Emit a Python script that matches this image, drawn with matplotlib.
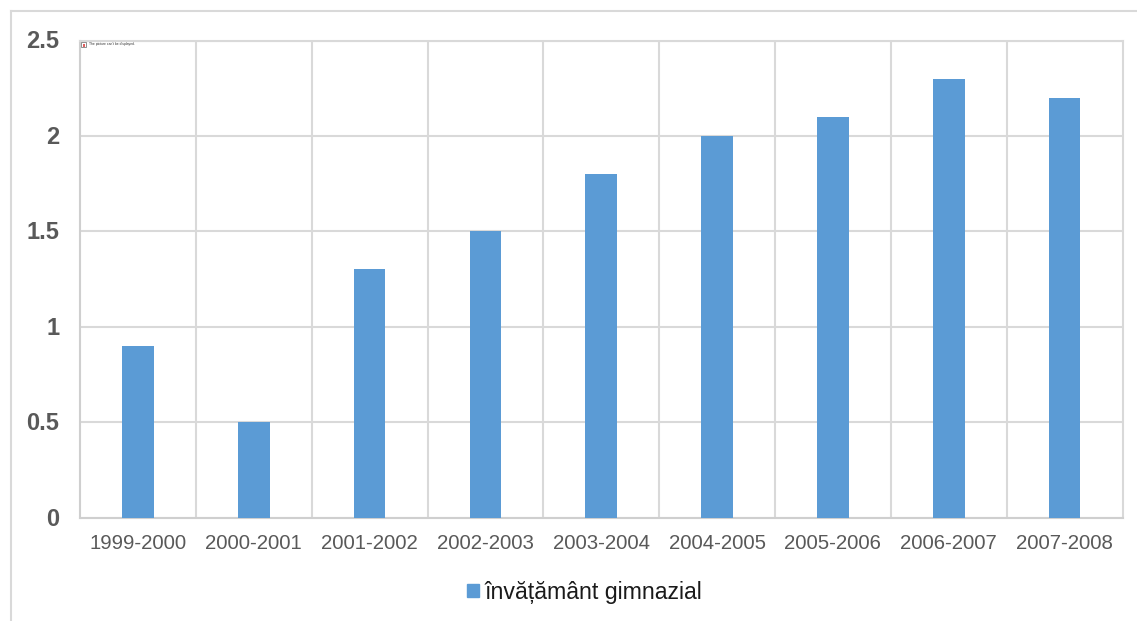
import matplotlib
matplotlib.use('Agg')
import matplotlib.pyplot as plt
from matplotlib.lines import Line2D
from matplotlib.transforms import ScaledTranslation

# Values
years = ['1999-2000', '2000-2001', '2001-2002', '2002-2003', '2003-2004',
         '2004-2005', '2005-2006', '2006-2007', '2007-2008']
values = [0.9, 0.5, 1.3, 1.5, 1.8, 2.0, 2.1, 2.3, 2.2]
y_ticks = [0, 0.5, 1, 1.5, 2, 2.5]
y_labels = ['0', '0.5', '1', '1.5', '2', '2.5']
legend_label = 'învățământ gimnazial'

W, H = 1137, 621
plt.rcParams['font.family'] = ['Liberation Sans', 'DejaVu Sans']

fig = plt.figure(figsize=(W / 100, H / 100), dpi=100)

# Plot area in pixels: x 80-1123, y 40-517
ax = fig.add_axes([80 / W, 1 - 517.5 / H, (1122.5 - 80) / W, (517.5 - 40.5) / H])

ax.bar(range(len(years)), values, width=0.272, color='#5B9BD5', zorder=3)

ax.set_xlim(-0.5, len(years) - 0.5)
ax.set_ylim(0, 2.5)

# Gridlines in both directions
ax.set_yticks(y_ticks)
ax.set_yticklabels(y_labels, fontsize=17, fontweight='bold', color='#595959')
ax.set_xticks(range(len(years)))
ax.set_xticklabels(years, fontsize=14.7, color='#595959')
ax.set_xticks([i + 0.5 for i in range(len(years) - 1)], minor=True)
ax.grid(axis='y', color='#D9D9D9', linewidth=1.5, zorder=0)
ax.grid(axis='x', which='minor', color='#D9D9D9', linewidth=1.5, zorder=0)
ax.tick_params(axis='both', which='both', length=0)
ax.tick_params(axis='x', pad=12)
ax.tick_params(axis='y', pad=15)

# y labels sit a pixel higher than matplotlib puts them
for label in ax.get_yticklabels():
    label.set_transform(label.get_transform() + ScaledTranslation(0, 1 / 100, fig.dpi_scale_trans))

for name, spine in ax.spines.items():
    spine.set_color('#D9D9D9')
    spine.set_linewidth(1.5)
ax.spines['bottom'].set_color('#CFCFCF')
ax.spines['left'].set_color('#CFCFCF')

# Outer chart frame is cut off at the right and bottom
fig.add_artist(Line2D([10.5 / W, 10.5 / W], [0, 1 - 11 / H], color='#D9D9D9', lw=1.5))
fig.add_artist(Line2D([10.5 / W, 1], [1 - 11 / H, 1 - 11 / H], color='#D9D9D9', lw=1.5))

# Legend
handle = plt.Rectangle((0, 0), 1, 1, color='#5B9BD5')
fig.legend([handle], [legend_label], loc='center', bbox_to_anchor=(585 / W, 1 - 592.5 / H),
           frameon=False, fontsize=16.7, handlelength=0.5, handleheight=0.5,
           handletextpad=0.25, labelcolor='#1A1A1A')

# Broken picture placeholder in the top left of the plot area
fig.patches.append(plt.Rectangle((81 / W, 1 - 47 / H), 5 / W, 5 / H, transform=fig.transFigure,
                                 facecolor='white', edgecolor='#7F7F7F', linewidth=0.6))
fig.patches.append(plt.Rectangle((82.5 / W, 1 - 46.5 / H), 2 / W, 2 / H, transform=fig.transFigure,
                                 facecolor='#E06060', edgecolor='none'))
fig.text(89 / W, 1 - 44.5 / H, "The picture can't be displayed.", fontsize=2.45, color='#333333', va='center')

fig.savefig('out.png', dpi=100)
